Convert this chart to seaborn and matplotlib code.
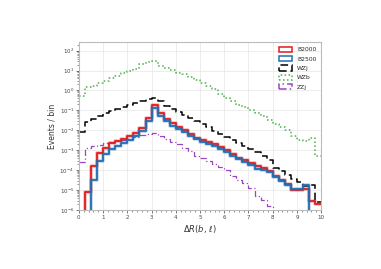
import numpy as np
import pandas as pd
import matplotlib
matplotlib.use("Agg")
import matplotlib.pyplot as plt
from matplotlib.patches import Patch
from matplotlib.ticker import LogLocator, AutoMinorLocator
import seaborn as sns

# ==============================
# DATA (log10 of events per bin, 0.25 wide bins from 0 to 10; None = empty bin)
# ==============================
bin_edges = [i * 0.25 for i in range(41)]

log_b2000 = [None, -5.1, -3.77, -3.13, -2.88, -2.66, -2.55, -2.43, -2.3, -2.15,
             -1.9, -1.37, -0.75, -1.12, -1.42, -1.62, -1.82, -1.99, -2.2, -2.38,
             -2.5, -2.6, -2.7, -2.85, -3.0, -3.2, -3.38, -3.5, -3.65, -3.8,
             -3.9, -4.05, -4.3, -4.5, -4.7, -5.0, -5.0, -4.95, -5.55, -5.7]
log_b2500 = [None, None, -4.47, -3.55, -3.17, -2.95, -2.8, -2.65, -2.5, -2.3,
             -2.04, -1.54, -0.87, -1.26, -1.54, -1.76, -1.92, -2.1, -2.3, -2.46,
             -2.6, -2.7, -2.8, -2.95, -3.1, -3.3, -3.46, -3.6, -3.75, -3.93,
             -4.0, -4.1, -4.35, -4.55, -4.75, -4.95, -4.95, -4.75, None, None]
log_wzj = [-2.1, -1.6, -1.45, -1.3, -1.15, -1.05, -0.95, -0.85, -0.75, -0.62,
           -0.52, -0.43, -0.37, -0.55, -0.8, -0.95, -1.1, -1.25, -1.4, -1.55,
           -1.7, -1.85, -2.05, -2.2, -2.35, -2.5, -2.65, -2.8, -2.95, -3.1,
           -3.3, -3.5, -3.9, -4.05, -4.25, -4.45, -4.6, -4.8, -4.75, -5.6]
log_wzb = [-0.3, 0.15, 0.2, 0.35, 0.47, 0.6, 0.7, 0.85, 0.97, 1.1,
           1.35, 1.45, 1.5, 1.25, 1.15, 1.05, 0.9, 0.8, 0.65, 0.5,
           0.35, 0.2, 0.05, -0.2, -0.4, -0.55, -0.75, -0.85, -1.0, -1.15,
           -1.3, -1.5, -1.7, -1.85, -2.0, -2.3, -2.5, -2.55, -2.4, -3.3]
log_zzj = [-3.6, -2.88, -2.78, -2.72, -2.66, -2.6, -2.55, -2.5, -2.45, -2.35,
           -2.25, -2.2, -2.13, -2.3, -2.46, -2.6, -2.7, -2.88, -3.05, -3.3,
           -3.4, -3.55, -3.7, -3.85, -4.0, -4.3, -4.5, -4.65, -4.9, -5.3,
           -5.5, -5.8, None, None, None, None, None, None, None, None]

labels = ['B2000', 'B2500', 'WZj', 'WZb', 'ZZj']


def to_counts(logs):
    return np.array([0.0 if v is None else 10 ** v for v in logs])


edges = np.array(bin_edges)
centers = 0.5 * (edges[:-1] + edges[1:])
df = pd.DataFrame({
    'center': centers,
    'B2000': to_counts(log_b2000),
    'B2500': to_counts(log_b2500),
    'WZj': to_counts(log_wzj),
    'WZb': to_counts(log_wzb),
    'ZZj': to_counts(log_zzj),
})

STYLES = {
    'B2000': dict(color='#e41a1c', linestyle='-', linewidth=1.3),
    'B2500': dict(color='#1f6fb4', linestyle='-', linewidth=1.3),
    'WZj':   dict(color='black', linestyle=(0, (5, 2.5)), linewidth=1.1),
    'WZb':   dict(color='#4daf4a', linestyle=(0, (1, 1.6)), linewidth=1.1),
    'ZZj':   dict(color='#9b45c2', linestyle=(0, (5, 2, 1, 2)), linewidth=0.9),
}

# ==============================
# PLOT
# ==============================
sns.set_style('whitegrid')
plt.rcParams['font.family'] = ['DejaVu Sans']

fig = plt.figure(figsize=(3.81, 2.69), dpi=100)
ax = fig.add_axes([0.207, 0.219, 0.636, 0.625])
ax.set_yscale('log')

# order: backgrounds first, signals on top
for name in ['WZb', 'WZj', 'ZZj', 'B2000', 'B2500']:
    st = STYLES[name]
    if name in ('B2000', 'B2500'):
        # light halo under the signal lines
        sns.histplot(data=df, x='center', weights=name, bins=bin_edges,
                     element='step', fill=False, ax=ax,
                     color=st['color'], linewidth=2.6, alpha=0.3)
    sns.histplot(data=df, x='center', weights=name, bins=bin_edges,
                 element='step', fill=False, ax=ax, **st)

ax.set_xlim(0, 10)
ax.set_ylim(1e-6, 2.7e2)
ax.set_xticks(range(0, 11))
ax.xaxis.set_minor_locator(AutoMinorLocator(5))
ax.yaxis.set_major_locator(LogLocator(base=10, numticks=12))
ax.tick_params(axis='both', which='major', labelsize=4, length=2, width=0.5,
               bottom=True, left=True, pad=1.5, colors='#444444')
ax.tick_params(axis='both', which='minor', length=1.2, width=0.4,
               bottom=True, left=True, colors='#444444')
ax.grid(True, which='major', color='#e6e6e6', linewidth=0.5)
for sp in ax.spines.values():
    sp.set_color('#bbbbbb')
    sp.set_linewidth(0.8)

ax.set_xlabel(r'$\Delta R(b,\, \ell)$', fontsize=6, color='#333333', labelpad=2)
ax.set_ylabel('Events / bin', fontsize=5.5, color='#333333', labelpad=2)

handles = [Patch(facecolor='none', edgecolor=STYLES[n]['color'],
                 linestyle=STYLES[n]['linestyle'], linewidth=1.1) for n in labels]
ax.legend(handles, labels, loc='upper right', fontsize=4.3, frameon=False,
          handlelength=2.2, handleheight=1.0, labelspacing=0.6,
          borderaxespad=0.4, handletextpad=0.8)

fig.savefig('out.png', dpi=100, facecolor='white')
plt.close(fig)
